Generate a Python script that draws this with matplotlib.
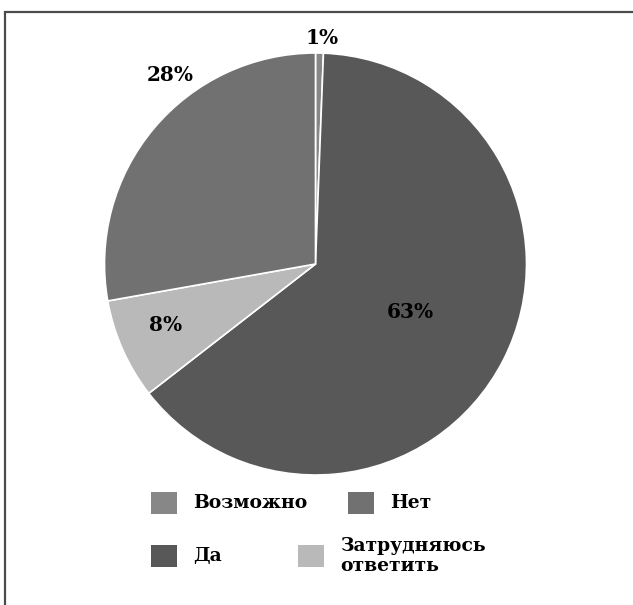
import matplotlib
matplotlib.use("Agg")
import matplotlib.pyplot as plt
from matplotlib.patches import Rectangle

# slices clockwise from 12 o'clock (wedge sizes)
categories = ["Возможно", "Да", "Затрудняюсь\nответить", "Нет"]
values = [0.6, 63.9, 7.7, 27.8]
colors = ["#878787", "#585858", "#b9b9b9", "#717171"]
pct_labels = ["1%", "63%", "8%", "28%"]
# label positions in pie-radius units
label_pos = [(0.03, 1.071), (0.45, -0.227), (-0.711, -0.289), (-0.687, 0.896)]

W, H = 633, 605
fig = plt.figure(figsize=(W / 100, H / 100), dpi=100)
fig.patch.set_facecolor("white")

# outer frame (runs off right and bottom edges)
fig.patches.append(Rectangle((5.0 / W, -0.1), 1.2, (H - 12) / H + 0.1,
                             transform=fig.transFigure, fill=False,
                             edgecolor="#4a4a4a", linewidth=1.6))

cx, cy, R = 315.5, 264, 211
span = 1.2
ax = fig.add_axes([(cx - R * span) / W, (H - cy - R * span) / H,
                   2 * R * span / W, 2 * R * span / H])
ax.pie(values, colors=colors, startangle=90, counterclock=False, radius=1,
       wedgeprops=dict(edgecolor="white", linewidth=1.2))
ax.set_xlim(-span, span)
ax.set_ylim(-span, span)
ax.set_aspect("equal")
ax.axis("off")

font = dict(family="DejaVu Serif", weight="bold", color="black")
for txt, (x, y) in zip(pct_labels, label_pos):
    ax.text(x, y, txt, ha="center", va="center", fontsize=14.5, **font)

# legend, laid out as in the reference
legend_items = [
    # (category index, square left, square top, text x, text y)
    (0, 151, 492, 193, 503),
    (3, 348, 492, 390, 503),
    (1, 151, 545, 193, 556),
    (2, 298, 545, 340, 556),
]
for i, sx, sy, tx, ty in legend_items:
    fig.patches.append(Rectangle((sx / W, (H - sy - 22) / H), 26 / W, 22 / H,
                                 transform=fig.transFigure,
                                 facecolor=colors[i], edgecolor="none"))
    fig.text(tx / W, (H - ty) / H, categories[i], ha="left", va="center",
             fontsize=13.5, linespacing=1.15, **font)

fig.savefig("out.png", dpi=100, facecolor="white")
